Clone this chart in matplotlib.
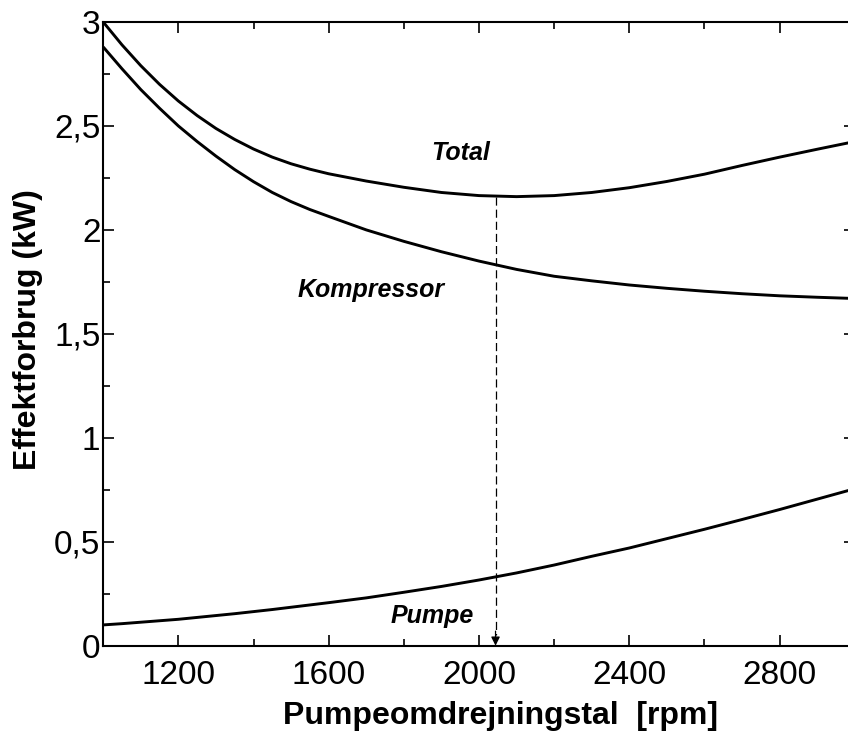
import matplotlib
matplotlib.use("Agg")
import matplotlib.pyplot as plt
from matplotlib.ticker import FuncFormatter, MultipleLocator

plt.rcParams["font.family"] = ["Liberation Sans", "DejaVu Sans"]

# pump speed [rpm] and power draw [kW]
rpm = [1000, 1050, 1100, 1150, 1200, 1250, 1300, 1350, 1400, 1450, 1500, 1550, 1600,
       1700, 1800, 1900, 2000, 2100, 2200, 2300, 2400, 2500, 2600, 2700, 2800, 2900, 3000]
total = [3.00, 2.89, 2.79, 2.70, 2.62, 2.55, 2.488, 2.435, 2.389, 2.35, 2.318, 2.292, 2.27,
         2.235, 2.205, 2.18, 2.165, 2.16, 2.165, 2.18, 2.203, 2.233, 2.268, 2.31, 2.35,
         2.388, 2.425]
kompressor = [2.88, 2.775, 2.675, 2.585, 2.50, 2.425, 2.355, 2.29, 2.232, 2.18, 2.136,
              2.098, 2.065, 2.00, 1.945, 1.895, 1.85, 1.81, 1.777, 1.755, 1.735, 1.719,
              1.705, 1.693, 1.683, 1.676, 1.67]
pumpe = [0.100, 0.106, 0.113, 0.120, 0.127, 0.136, 0.145, 0.154, 0.164, 0.174, 0.185,
         0.196, 0.207, 0.23, 0.257, 0.285, 0.316, 0.35, 0.388, 0.43, 0.47, 0.515, 0.56,
         0.607, 0.655, 0.705, 0.755]

# optimum operating point (minimum of total)
opt_rpm = 2044
opt_kw = 2.16

fig = plt.figure(figsize=(8.48, 7.35), dpi=100)
ax = fig.add_axes([103.2 / 848, (735 - 645.7) / 735, (854.8 - 103.2) / 848, (645.7 - 22) / 735])

for series in (total, kompressor, pumpe):
    ax.plot(rpm, series, color="black", lw=2.1, solid_capstyle="butt",
            solid_joinstyle="round")

# dashed drop line to the x axis with an arrowhead
ax.plot([opt_rpm, opt_rpm], [opt_kw, 0.05], color="black", lw=0.9,
        linestyle=(0, (6.5, 3.2)))
ax.annotate("", xy=(opt_rpm, 0.0), xytext=(opt_rpm, 0.07),
            arrowprops=dict(arrowstyle="-|>", color="black", lw=0.9,
                            mutation_scale=13, shrinkA=0, shrinkB=0))

lab = dict(fontsize=18, fontweight="bold", fontstyle="italic", ha="center", va="center")
ax.text(1952, 2.37, "Total", **lab)
ax.text(1713, 1.71, "Kompressor", **lab)
ax.text(1875, 0.143, "Pumpe", **lab)

ax.set_xlim(1000, 3000)
ax.set_ylim(0, 3)
ax.xaxis.set_major_locator(MultipleLocator(400))
ax.xaxis.set_minor_locator(MultipleLocator(200))
ax.yaxis.set_major_locator(MultipleLocator(0.5))
ax.yaxis.set_minor_locator(MultipleLocator(0.25))
ax.xaxis.set_major_formatter(FuncFormatter(lambda v, p: "" if v == 1000 else f"{v:.0f}"))
ax.yaxis.set_major_formatter(
    FuncFormatter(lambda v, p: f"{v:g}".replace(".", ",")))

ax.tick_params(which="both", direction="in", top=True, right=True, width=1.2,
               labelsize=24)
ax.tick_params(which="major", length=8)
ax.tick_params(which="minor", length=5)
ax.tick_params(axis="x", pad=10)
ax.tick_params(axis="y", pad=2)
for sp in ax.spines.values():
    sp.set_linewidth(1.5)

fig.text(500 / 848, 1 - 716 / 735, "Pumpeomdrejningstal  [rpm]", fontsize=23,
         fontweight="bold", ha="center", va="center")
fig.text(28 / 848, 1 - 330 / 735, "Effektforbrug (kW)", fontsize=23,
         fontweight="bold", ha="center", va="center", rotation=90)

fig.savefig("out.png", dpi=100)
